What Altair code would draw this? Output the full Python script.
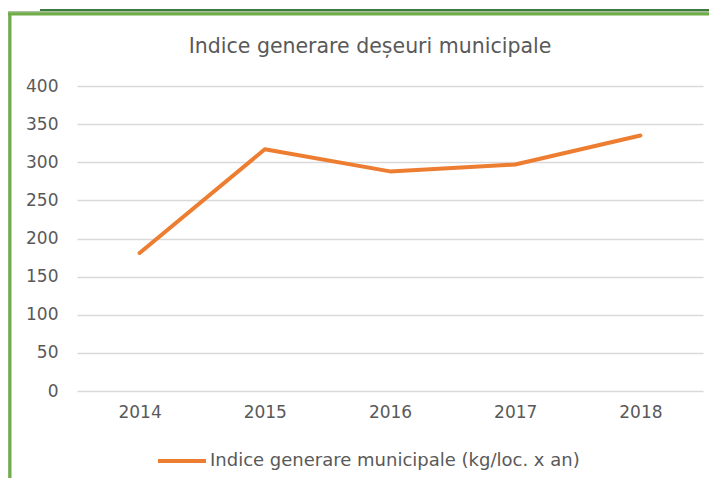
import altair as alt
import pandas as pd

years = ["2014", "2015", "2016", "2017", "2018"]
values = [181, 317, 288, 297, 335]
series_name = "Indice generare municipale (kg/loc. x an)"
title_text = "Indice generare deșeuri municipale"
y_ticks = [0, 50, 100, 150, 200, 250, 300, 350, 400]

df = pd.DataFrame({"year": years, "value": values, "series": [series_name] * len(years)})

TEXT = "#595959"
FONT = "DejaVu Sans"
ORANGE = "#ED7D31"

line = alt.Chart(df).mark_line(strokeWidth=4, strokeCap="round", strokeJoin="round").encode(
    x=alt.X("year:O", axis=alt.Axis(title=None, labelAngle=0, domain=False, ticks=False, tickSize=0,
                                    labelPadding=13, labelFontSize=17, labelColor=TEXT, labelFont=FONT,
                                    grid=False)),
    y=alt.Y("value:Q", scale=alt.Scale(domain=[0, 400], nice=False),
            axis=alt.Axis(title=None, values=y_ticks, domain=False, ticks=False, tickSize=0,
                          labelPadding=19, labelFontSize=17, labelColor=TEXT, labelFont=FONT,
                          gridColor="#D9D9D9", gridWidth=1.5)),
    color=alt.Color("series:N", scale=alt.Scale(range=[ORANGE]),
                    legend=alt.Legend(title=None, orient="none", legendX=79, legendY=349,
                                      symbolType="stroke", symbolSize=2304, symbolStrokeWidth=4,
                                      labelFontSize=18, labelFont=FONT, labelColor=TEXT,
                                      labelLimit=600, labelOffset=2, padding=0)),
)

deco = pd.DataFrame({"k": [0]})
left_dark = alt.Chart(deco).mark_rule(color="#4E7F3E", strokeWidth=1).encode(
    x=alt.value(-69), y=alt.value(-73), y2=alt.value(392))
left_green = alt.Chart(deco).mark_rule(color="#70AD47", strokeWidth=3).encode(
    x=alt.value(-67), y=alt.value(-73), y2=alt.value(392))
top_dark_edge = alt.Chart(deco).mark_rule(color="#4E7F3E", strokeWidth=1).encode(
    x=alt.value(-69), x2=alt.value(632), y=alt.value(-74))
top_green = alt.Chart(deco).mark_rule(color="#70AD47", strokeWidth=3).encode(
    x=alt.value(-69), x2=alt.value(632), y=alt.value(-72))
top_line = alt.Chart(deco).mark_rule(color="#3F7A3F", strokeWidth=2).encode(
    x=alt.value(-37), x2=alt.value(632), y=alt.value(-76))

chart = alt.layer(line, left_dark, left_green, top_dark_edge, top_green, top_line).properties(
    width=626,
    height=305,
    autosize=alt.AutoSizeParams(type="none"),
    padding={"left": 69, "top": 78, "right": 6, "bottom": 87},
    title=alt.TitleParams(title_text, fontSize=20.5, font=FONT, color=TEXT, fontWeight="normal",
                          anchor="middle", dx=-20, offset=-48),
    background="white",
).configure_view(stroke="transparent")

chart.save("out.html", embed_options={"renderer": "svg", "actions": False})
